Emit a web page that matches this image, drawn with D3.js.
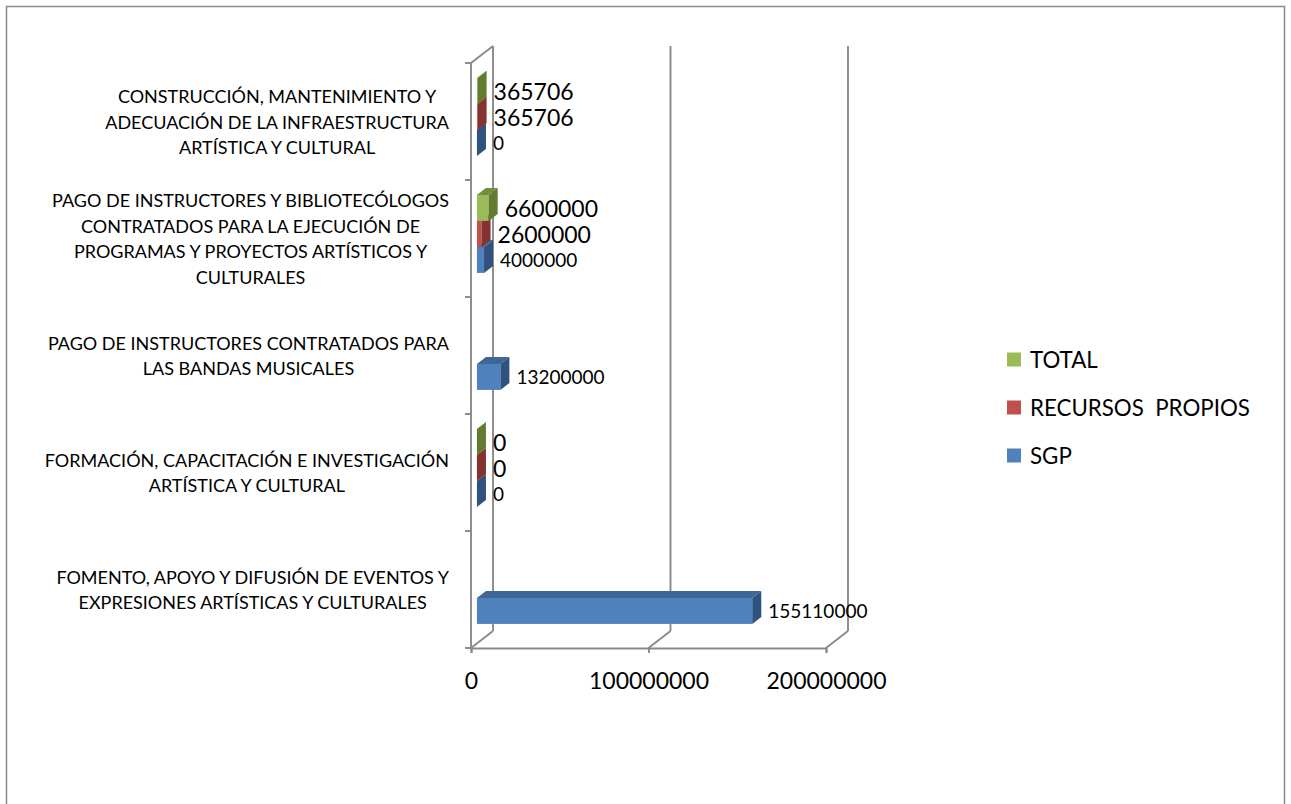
<!DOCTYPE html>
<html><head><meta charset="utf-8">
<script src="https://cdn.jsdelivr.net/npm/d3@7"></script>
<style>
body{margin:0;background:#fff}
svg{display:block}
text{font-family:Lato,"Open Sans",sans-serif;fill:#000}
</style>
</head><body>
<svg id="chart" width="1291" height="804"></svg>
<script>
// ---------- data ----------
const categories = [
  "FOMENTO, APOYO Y DIFUSIÓN DE EVENTOS Y\nEXPRESIONES ARTÍSTICAS Y CULTURALES",
  "FORMACIÓN, CAPACITACIÓN E INVESTIGACIÓN\nARTÍSTICA Y CULTURAL",
  "PAGO DE INSTRUCTORES CONTRATADOS PARA\nLAS BANDAS MUSICALES",
  "PAGO DE INSTRUCTORES Y BIBLIOTECÓLOGOS\nCONTRATADOS PARA LA EJECUCIÓN DE\nPROGRAMAS Y PROYECTOS ARTÍSTICOS Y\nCULTURALES",
  "CONSTRUCCIÓN, MANTENIMIENTO Y\nADECUACIÓN DE LA INFRAESTRUCTURA\nARTÍSTICA Y CULTURAL"
];
const seriesNames = ["SGP", "RECURSOS  PROPIOS", "TOTAL"];
const sgpValues = [155110000, 0, 13200000, 4000000, 0];
const recursosValues = [null, 0, null, 2600000, 365706];
const totalValues = [null, 0, null, 6600000, 365706];
const xTickValues = [0, 100000000, 200000000];
const legendOrder = ["TOTAL", "RECURSOS  PROPIOS", "SGP"];

// ---------- styles ----------
const seriesValues = [sgpValues, recursosValues, totalValues];
const colors = {
  "SGP": {front: "#4F81BD", top: "#3E6697", side: "#30527E", label: 19},
  "RECURSOS  PROPIOS": {front: "#C0504D", top: "#9B3E3C", side: "#843331", label: 23},
  "TOTAL": {front: "#9BBB59", top: "#738D3C", side: "#637B31", label: 23}
};
const gridColor = "#898989";

const svg = d3.select("#chart");

// outer frame
svg.append("rect").attr("x", 6.5).attr("y", 6.5).attr("width", 1278).attr("height", 820)
  .attr("fill", "none").attr("stroke", "#8a8a8a").attr("stroke-width", 1.5);

// ---------- scales ----------
const x = d3.scaleLinear().domain([0, 200000000]).range([471, 826]);
const y = d3.scaleBand().domain(d3.range(categories.length)).range([648, 63]);
const inner = d3.scaleBand().domain(seriesNames).range([y.bandwidth(), 0]).paddingInner(0).paddingOuter(0.75);

// 3D depth (full floor depth) and bar placement within depth
const DX = 22, DY = -17;
const bf = 0.27, bd = 0.41;
const fX = DX * bf, fY = DY * bf, dX = DX * bd, dY = DY * bd;

const yTop = y.range()[1], yBottom = y.range()[0];
const g = svg.append("g");

// walls / gridlines
const lines = [];
lines.push([x(0), yTop, x(0), yBottom]);              // front-left vertical
lines.push([x(0), yTop, x(0) + DX, yTop + DY]);       // top-left diagonal
xTickValues.forEach(v => {
  lines.push([x(v) + DX, yTop + DY, x(v) + DX, yBottom + DY]); // back wall gridline
  lines.push([x(v), yBottom, x(v) + DX, yBottom + DY]);        // floor diagonal
});
g.selectAll("line.grid").data(lines).join("line").attr("class", "grid")
  .attr("x1", d => d[0]).attr("y1", d => d[1]).attr("x2", d => d[2]).attr("y2", d => d[3])
  .attr("stroke", gridColor).attr("stroke-width", 1.9);

// category ticks at band boundaries
const bounds = d3.range(categories.length + 1).map(i => i < categories.length ? y(i) + y.bandwidth() : y(i - 1));
g.selectAll("line.ytick").data(bounds).join("line").attr("class", "ytick")
  .attr("x1", x(0) - 6).attr("x2", x(0)).attr("y1", d => d).attr("y2", d => d)
  .attr("stroke", gridColor).attr("stroke-width", 1.9);

// x axis (front)
const xAxis = d3.axisBottom(x).tickValues(xTickValues).tickSize(5).tickFormat(d3.format("d"));
const ax = svg.append("g").attr("transform", `translate(0,${yBottom})`).call(xAxis);
ax.select(".domain").attr("stroke", gridColor).attr("stroke-width", 1.9);
ax.selectAll(".tick line").attr("stroke", gridColor).attr("stroke-width", 1.9);
ax.selectAll(".tick text").attr("y", 33).attr("dy", "0.36em")
  .style("font-family", "Lato").style("font-size", "23px").attr("fill", "#000");

// category labels
const catG = svg.append("g");
categories.forEach((c, i) => {
  const ls = c.split("\n");
  const cy = y(i) + y.bandwidth() / 2;
  const lh = 25.5;
  const texts = ls.map((l, k) => catG.append("text")
    .attr("y", cy + (k - (ls.length - 1) / 2) * lh)
    .attr("dominant-baseline", "central")
    .attr("text-anchor", "middle")
    .style("font-size", "18px")
    .text(l));
  const maxW = d3.max(texts, t => t.node().getComputedTextLength());
  texts.forEach(t => t.attr("x", 449 - maxW / 2));
});

// bars
const barsG = svg.append("g");
const labelsG = svg.append("g");
categories.forEach((c, i) => {
  seriesNames.forEach((s, si) => {
    const v = seriesValues[si][i];
    if (v === null) return;
    const col = colors[s];
    const yt = y(i) + inner(s) + fY, yb = yt + inner.bandwidth();
    const x0 = x(0) + fX, x1 = x(v) + fX;
    barsG.append("rect").attr("x", x0).attr("y", yt).attr("width", x1 - x0).attr("height", yb - yt)
      .attr("fill", col.front);
    barsG.append("polygon")
      .attr("points", [[x0, yt], [x1, yt], [x1 + dX, yt + dY], [x0 + dX, yt + dY]].join(" "))
      .attr("fill", col.top);
    barsG.append("polygon")
      .attr("points", [[x1, yt], [x1 + dX, yt + dY], [x1 + dX, yb + dY], [x1, yb]].join(" "))
      .attr("fill", col.side);
    labelsG.append("text")
      .attr("x", x1 + dX + 7).attr("y", (yt + yb) / 2)
      .attr("dominant-baseline", "central")
      .style("font-size", col.label + "px")
      .text(v);
  });
});

// legend
const lg = svg.append("g");
legendOrder.forEach((s, k) => {
  const cy = 359.5 + k * 48;
  lg.append("rect").attr("x", 1007).attr("y", cy - 7).attr("width", 14).attr("height", 14)
    .attr("fill", colors[s].front);
  lg.append("text").attr("x", 1030).attr("y", cy).attr("dominant-baseline", "central")
    .style("font-size", "22.3px").style("white-space", "pre").attr("xml:space", "preserve")
    .text(s);
});
</script>
</body></html>
